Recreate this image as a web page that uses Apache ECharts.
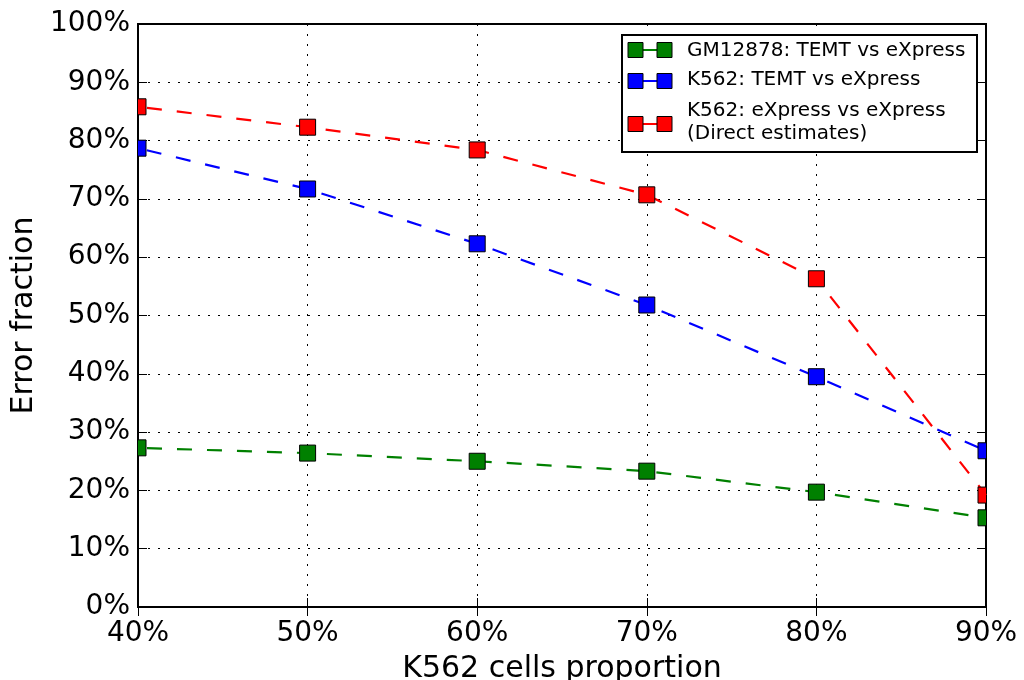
<!DOCTYPE html>
<html>
<head>
<meta charset="utf-8">
<style>
  html, body { margin: 0; padding: 0; background: #fff; }
  #chart { width: 1024px; height: 680px; }
</style>
<script src="https://cdn.jsdelivr.net/npm/echarts@6/dist/echarts.min.js"></script>
</head>
<body>
<div id="chart"></div>
<script>
// K562 cell proportion (%) on the x axis
const proportions = [40, 50, 60, 70, 80, 90];

// Error fraction (%) per comparison
const gm12878Temt = [27.3, 26.4, 25.0, 23.3, 19.7, 15.3];
const k562Temt = [78.7, 71.7, 62.3, 51.8, 39.5, 26.8];
const k562Express = [85.8, 82.3, 78.4, 70.7, 56.3, 19.2];

const seriesNames = [
  'GM12878: TEMT vs eXpress',
  'K562: TEMT vs eXpress',
  'K562: eXpress vs eXpress\n(Direct estimates)'
];
const seriesColors = ['#008000', '#0000ff', '#ff0000'];
const seriesData = [gm12878Temt, k562Temt, k562Express];

const FONT = 'DejaVu Sans';
const MARKER = 16;

const chart = echarts.init(document.getElementById('chart'), null, { renderer: 'canvas' });

const series = [];
seriesData.forEach((vals, i) => {
  const pts = proportions.map((p, j) => [p, vals[j]]);
  // dashed connecting line
  series.push({
    name: seriesNames[i],
    type: 'line',
    data: pts,
    showSymbol: false,
    symbol: 'none',
    clip: true,
    z: 3 + i * 2,
    lineStyle: { color: seriesColors[i], width: 2.2, type: [15, 15], dashOffset: -9 },
    emphasis: { disabled: true },
    silent: true
  });
  // square markers, clipped to the plot frame
  series.push({
    type: 'custom',
    data: pts,
    clip: true,
    z: 4 + i * 2,
    silent: true,
    renderItem: function (params, api) {
      const c = api.coord([api.value(0), api.value(1)]);
      return {
        type: 'rect',
        shape: { x: c[0] - MARKER / 2, y: c[1] - MARKER / 2, width: MARKER, height: MARKER },
        style: { fill: seriesColors[i], stroke: '#000', lineWidth: 1 }
      };
    }
  });
});

// Legend drawn as a boxed key: marker, short line, marker, label
const legendX = 622, legendY = 35, legendW = 355, legendH = 117;
const legendRows = [
  { y: 50, labelY: 51 },
  { y: 81, labelY: 80 },
  { y: 124, labelY: 122 }
];
const legendGraphics = [{
  type: 'rect',
  shape: { x: legendX, y: legendY, width: legendW, height: legendH },
  style: { fill: '#fff', stroke: '#000', lineWidth: 2 },
  z: 100
}];
legendRows.forEach((row, i) => {
  const c = seriesColors[i];
  legendGraphics.push(
    { type: 'line', shape: { x1: 636, y1: row.y, x2: 664, y2: row.y },
      style: { stroke: c, lineWidth: 2 }, z: 101 },
    { type: 'rect', shape: { x: 628, y: row.y - 7.5, width: 15, height: 15 },
      style: { fill: c, stroke: '#000', lineWidth: 1 }, z: 102 },
    { type: 'rect', shape: { x: 657, y: row.y - 7.5, width: 15, height: 15 },
      style: { fill: c, stroke: '#000', lineWidth: 1 }, z: 102 },
    { type: 'text', x: 687, y: row.labelY,
      style: { text: seriesNames[i], font: '20px "' + FONT + '"', fill: '#000',
               verticalAlign: 'middle', lineHeight: 23 }, z: 102 }
  );
});

const tickStyle = { show: true, inside: true, length: 9, lineStyle: { color: '#000', width: 1 } };
const gridLine = { show: true, lineStyle: { color: '#000', type: [2, 8], width: 1 } };

chart.setOption({
  backgroundColor: '#fff',
  animation: false,
  grid: { left: 138, right: 38, top: 24, bottom: 73, show: true,
          containLabel: false, outerBoundsMode: 'none',
          borderColor: '#000', borderWidth: 2, backgroundColor: 'transparent' },
  xAxis: [{
    type: 'value', min: 40, max: 90, interval: 10,
    name: 'K562 cells proportion', nameLocation: 'middle', nameGap: 47,
    nameTextStyle: { fontFamily: FONT, fontSize: 30, color: '#000' },
    axisLine: { show: true, lineStyle: { color: '#000', width: 2 } },
    axisTick: tickStyle,
    axisLabel: { formatter: '{value}%', fontFamily: FONT, fontSize: 28, color: '#000', margin: 13 },
    splitLine: gridLine
  }, {
    type: 'value', min: 40, max: 90, interval: 10, position: 'top',
    axisLine: { show: true, lineStyle: { color: '#000', width: 2 } },
    axisTick: tickStyle, axisLabel: { show: false }, splitLine: { show: false }
  }],
  yAxis: [{
    type: 'value', min: 0, max: 100, interval: 10,
    name: 'Error fraction', nameLocation: 'middle', nameGap: 95,
    nameTextStyle: { fontFamily: FONT, fontSize: 30, color: '#000' },
    axisLine: { show: true, lineStyle: { color: '#000', width: 2 } },
    axisTick: tickStyle,
    axisLabel: { formatter: '{value}%', fontFamily: FONT, fontSize: 28, color: '#000', margin: 8 },
    splitLine: gridLine
  }, {
    type: 'value', min: 0, max: 100, interval: 10, position: 'right',
    axisLine: { show: true, lineStyle: { color: '#000', width: 2 } },
    axisTick: tickStyle, axisLabel: { show: false }, splitLine: { show: false }
  }],
  series: series,
  graphic: legendGraphics
});
</script>
</body>
</html>
